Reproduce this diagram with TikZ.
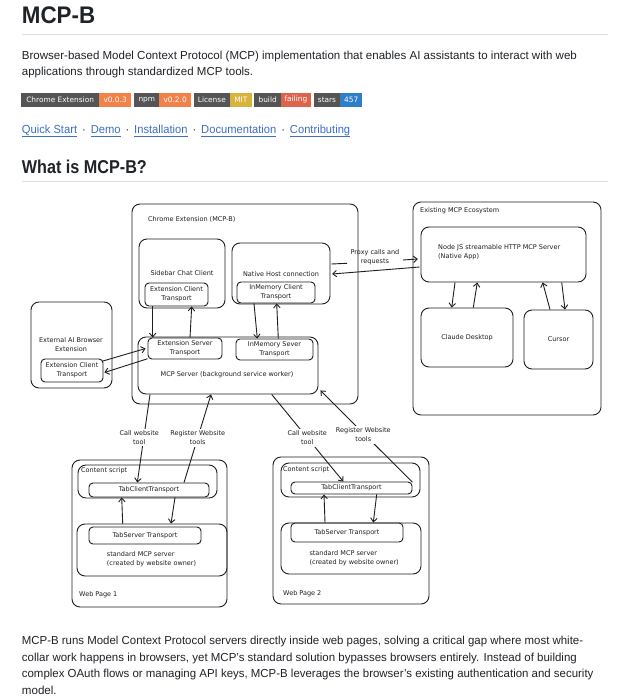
\documentclass[tikz,border=0pt]{standalone}
\usepackage{fontspec}
\setmainfont{Liberation Sans}
\newfontfamily\dfont{DejaVu Sans}
\usetikzlibrary{arrows.meta,calc}
\definecolor{ink}{HTML}{1F2328}
\definecolor{rulec}{HTML}{D8DEE4}
\definecolor{linkc}{HTML}{3D6FC4}
\definecolor{bgray}{HTML}{555555}
\definecolor{borange}{HTML}{F0824A}
\definecolor{byellow}{HTML}{D9B43A}
\definecolor{bred}{HTML}{DD634C}
\definecolor{bblue}{HTML}{2F7FC8}
\definecolor{dk}{HTML}{1E1E1E}
\newcommand\fitto[2]{\sbox0{#2}\pgfmathsetmacro\fitfac{#1/\the\wd0}\scalebox{\fitfac}[1]{\usebox0}}
\newcommand\ulink[1]{\sbox2{#1}\rlap{\color{linkc}\rule[-2.2pt]{\wd2}{0.6pt}}\usebox2}
\newcommand\sep{\textcolor{ink}{\,·\,}}
\begin{document}
\begin{tikzpicture}[x=1pt,y=-1pt,
  body/.style={anchor=base west, inner sep=0, text=ink, font=\fontsize{11.6}{14}\selectfont},
  badge/.style={inner sep=0, minimum height=14pt, text=white, font=\dfont\fontsize{7.4}{8}\selectfont},
  box/.style={draw=dk, line width=0.9pt, rounded corners=8pt, inner sep=0},
  sbox/.style={draw=dk, line width=0.9pt, rounded corners=4pt, inner sep=0, align=center, font=\dfont\fontsize{6.5}{9}\selectfont, text=dk},
  dtext/.style={inner sep=0, align=center, font=\dfont\fontsize{6.5}{9}\selectfont, text=dk},
  conn/.style={draw=dk, line width=0.9pt},
  arr/.style={conn, -{Straight Barb[length=3.8pt,width=6.5pt]}},
  lbl/.style={dtext, fill=white, inner sep=1.5pt}
]
\useasboundingbox (0,0) rectangle (628,700);
\fill[white] (0,0) rectangle (628,700);

% ---------- page text ----------
\node[anchor=base west, inner sep=0, text=ink, font=\fontsize{24}{28}\selectfont\bfseries] (title) at (21.7,24) {\fitto{73.3}{MCP-B}};
\draw[rulec, line width=1pt] (22,35) -- (608,35);
\node[body] (d1) at (21.7,60) {\fitto{555}{Browser-based Model Context Protocol (MCP) implementation that enables AI assistants to interact with web}};
\node[body] (d2) at (21.7,76) {\fitto{231.3}{applications through standardized MCP tools.}};

% badges
\node[badge, fill=bgray, minimum width=78.3pt] (b1a) at (60.15,99.7) {Chrome Extension};
\node[badge, fill=borange, minimum width=31.7pt] (b1b) at (115.15,99.7) {v0.0.3};
\node[badge, fill=bgray, minimum width=25pt] (b2a) at (146.8,99.7) {npm};
\node[badge, fill=borange, minimum width=31.7pt] (b2b) at (175.15,99.7) {v0.2.0};
\node[badge, fill=bgray, minimum width=36.3pt] (b3a) at (211.85,99.7) {License};
\node[badge, fill=byellow, minimum width=21.7pt] (b3b) at (240.85,99.7) {MIT};
\node[badge, fill=bgray, minimum width=26.7pt] (b4a) at (267.65,99.7) {build};
\node[badge, fill=bred, minimum width=29.7pt] (b4b) at (295.85,99.7) {failing};
\node[badge, fill=bgray, minimum width=26pt] (b5a) at (327,99.7) {stars};
\node[badge, fill=bblue, minimum width=22.3pt] (b5b) at (351.15,99.7) {457};

\node[body, text=linkc] (links) at (21.7,134) {\fitto{328.3}{\ulink{Quick Start} \sep{} \ulink{Demo} \sep{} \ulink{Installation} \sep{} \ulink{Documentation} \sep{} \ulink{Contributing}}};

\node[anchor=base west, inner sep=0, text=ink, font=\fontsize{18.6}{22}\selectfont\bfseries] (h2) at (21.7,173.3) {\fitto{125}{What is MCP-B?}};
\draw[rulec, line width=1pt] (22,181.7) -- (608,181.7);

\node[body] (p1) at (21.7,644) {\fitto{561.3}{MCP-B runs Model Context Protocol servers directly inside web pages, solving a critical gap where most white-}};
\node[body] (p2) at (21.7,661) {\fitto{555}{collar work happens in browsers, yet MCP{\char"27}s standard solution bypasses browsers entirely. Instead of building}};
\node[body] (p3) at (21.7,677.5) {\fitto{571.6}{complex OAuth flows or managing API keys, MCP-B leverages the browser{\char"27}s existing authentication and security}};
\node[body] (p4) at (21.7,694) {model.};

% ---------- diagram boxes ----------
\node[box, minimum width=226pt, minimum height=200pt] (chrome) at (245,304) {};
\node[dtext, anchor=west] (chromelbl) at (148,219) {Chrome Extension (MCP-B)};
\node[box, minimum width=86pt, minimum height=69pt] (sidebar) at (182,273.5) {};
\node[dtext] (sidebarlbl) at (182,273) {Sidebar Chat Client};
\node[sbox, minimum width=63pt, minimum height=23pt] (extclient) at (176.5,294.5) {Extension Client\\Transport};
\node[box, minimum width=98pt, minimum height=61pt] (native) at (281,273.5) {};
\node[dtext] (nativelbl) at (281,274) {Native Host connection};
\node[sbox, minimum width=78pt, minimum height=21pt] (inmemclient) at (276,292.5) {InMemory Client\\Transport};
\node[box, minimum width=180pt, minimum height=57pt] (mcpserver) at (228,365.5) {};
\node[dtext] (mcplbl) at (227,375) {MCP Server (background service worker)};
\node[sbox, minimum width=74pt, minimum height=21pt] (extserver) at (185,348.5) {Extension Server\\Transport};
\node[sbox, minimum width=77pt, minimum height=21pt] (inmemserver) at (274.5,349.5) {InMemory Sever\\Transport};

\node[box, minimum width=81pt, minimum height=86pt] (external) at (71.5,345) {};
\node[dtext] (extlbl) at (71,345) {External AI Browser\\Extension};
\node[sbox, minimum width=62pt, minimum height=23pt] (extclient2) at (72,370.5) {Extension Client\\Transport};

\node[box, minimum width=188pt, minimum height=213pt] (eco) at (507,308.5) {};
\node[dtext, anchor=west] (ecolbl) at (420,211) {Existing MCP Ecosystem};
\node[box, minimum width=165pt, minimum height=55pt] (nodejs) at (503.5,254.5) {};
\node[dtext, anchor=west, align=left] (nodelbl) at (438,252) {Node JS streamable HTTP MCP Server\\ (Native App)};
\node[box, minimum width=92pt, minimum height=59pt, dtext, draw=dk, line width=0.9pt, rounded corners=8pt] (claude) at (467,337.5) {Claude Desktop};
\node[box, minimum width=69pt, minimum height=59pt, dtext, draw=dk, line width=0.9pt, rounded corners=8pt] (cursor) at (558.5,339.5) {Cursor};

% web page 1
\node[box, minimum width=155pt, minimum height=147pt] (web1) at (149.5,533.5) {};
\node[box, minimum width=139pt, minimum height=33pt] (content1) at (147.5,481.5) {};
\node[dtext, anchor=west] (content1lbl) at (81,471) {Content script};
\node[sbox, minimum width=120pt, minimum height=14pt] (tabclient1) at (149,490) {TabClientTransport};
\node[box, minimum width=150pt, minimum height=52pt] (std1) at (152,550) {};
\node[sbox, minimum width=112pt, minimum height=17pt] (tabserver1) at (145,535.5) {TabServer Transport};
\node[dtext, anchor=west, align=left] (std1lbl) at (106.7,559.5) {standard MCP server\\(created by website owner)};
\node[dtext, anchor=west] (web1lbl) at (79,595) {Web Page 1};

% web page 2
\node[box, minimum width=156pt, minimum height=147pt] (web2) at (351,530.5) {};
\node[box, minimum width=139pt, minimum height=34pt] (content2) at (350.5,480) {};
\node[dtext, anchor=west] (content2lbl) at (283,469.3) {Content script};
\node[sbox, minimum width=121pt, minimum height=12pt] (tabclient2) at (351.5,488) {TabClientTransport};
\node[box, minimum width=140pt, minimum height=51pt] (std2) at (351,548.5) {};
\node[sbox, minimum width=112pt, minimum height=19pt] (tabserver2) at (347,532.5) {TabServer Transport};
\node[dtext, anchor=west, align=left] (std2lbl) at (309.3,558.3) {standard MCP server\\(created by website owner)};
\node[dtext, anchor=west] (web2lbl) at (283,593.3) {Web Page 2};

% ---------- connectors ----------
\draw[arr] ($(extclient.south)+(-23.8,0)$) -- ($(extserver.north)+(-32.3,0)$);
\draw[arr] ($(extserver.north)+(5,0)$) -- ($(extclient.south)+(15.2,0)$);
\draw[arr] ($(inmemclient.south)+(-22,0)$) -- ($(inmemserver.north)+(-17.2,0)$);
\draw[arr] ($(inmemserver.north)+(3.8,0)$) -- ($(inmemclient.south)+(0.7,0)$);

\draw[arr] ($(extclient2.north east)+(-1.3,2.7)$) -- ($(extserver.west)+(-2,0)$);
\draw[arr] ($(extserver.south west)+(0,-0.7)$) -- ($(extclient2.east)+(1,2)$);

\draw[arr] ($(nodejs.south)+(-48.5,0)$) -- ($(claude.north)+(-15.3,0)$);
\draw[arr] ($(claude.north)+(6.3,0)$) -- ($(nodejs.south)+(-26.2,0)$);
\draw[arr] ($(cursor.north)+(-8.5,0)$) -- ($(nodejs.south)+(39.2,0)$);
\draw[arr] ($(nodejs.south)+(58.2,0)$) -- ($(cursor.north)+(6.5,0)$);

% proxy
\coordinate (pa) at (347,263.3);
\coordinate (pb) at (403,260);
\draw[conn] ($(native.east)+(1,-9.5)$) -- (pa);
\draw[arr] (pb) -- ($(nodejs.west)+(-2.7,4.5)$);
\draw[arr] ($(nodejs.west)+(-1,12.5)$) -- ($(native.east)+(1.7,0.5)$);
\node[dtext] (proxylbl) at (375,257) {Proxy calls and\\requests};

% web page connectors
\draw[arr] ($(mcpserver.south)+(-78,0)$) -- ($(tabclient1.north)+(-11.7,0)$);
\draw[arr] ($(tabclient1.north)+(35,0)$) -- ($(mcpserver.south)+(-17,0)$);
\draw[arr] ($(mcpserver.south)+(43.7,0)$) -- ($(tabclient2.north)+(-8.2,0)$);
\draw[arr] ($(tabclient2.north east)+(0,0.7)$) -- ($(mcpserver.south east)+(2,-4)$);
\node[lbl] (call1) at (139.3,437.5) {Call website\\tool};
\node[lbl] (reg1) at (197.7,438) {Register Website\\tools};
\node[lbl] (call2) at (307.3,438) {Call website\\tool};
\node[lbl] (reg2) at (363.3,435) {Register Website\\tools};

\draw[arr] ($(std1.north)+(-29.3,0)$) -- ($(tabclient1.south)+(-27.3,0)$);
\draw[arr] ($(tabclient1.south)+(26,0)$) -- ($(std1.north)+(19,0)$);
\draw[arr] ($(std2.north)+(-26,0)$) -- ($(tabclient2.south)+(-27.5,0)$);
\draw[arr] ($(tabclient2.south)+(25.2,0)$) -- ($(std2.north)+(22.3,0)$);
\end{tikzpicture}
\end{document}
